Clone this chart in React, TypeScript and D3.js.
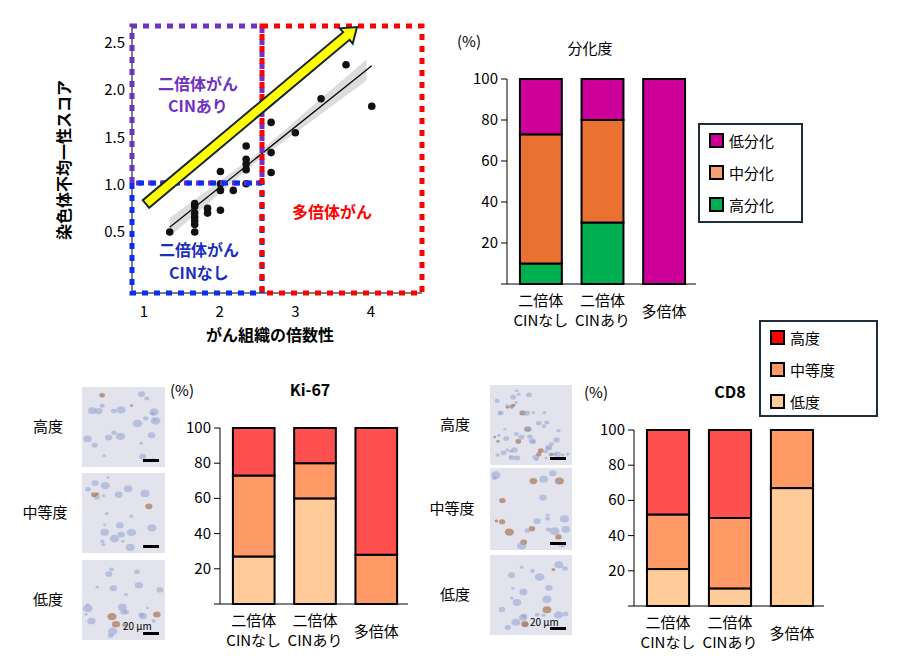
import React from "react";
import * as d3 from "d3";

const ploidyX = [1.34,1.67,1.67,1.67,1.67,1.67,1.67,1.67,1.84,1.84,2.01,2.01,2.01,2.01,2.18,2.35,2.35,2.35,2.35,2.35,2.68,2.68,2.68,3.0,3.34,3.67,4.01];
const cinY = [0.5,0.5,0.58,0.62,0.66,0.7,0.77,0.8,0.7,0.75,0.73,0.94,1.01,1.14,0.94,1.01,1.16,1.22,1.27,1.41,1.13,1.34,1.66,1.55,1.91,2.27,1.83];
const fitX = [1.34, 4.01];
const fitY = [0.55, 2.26];
const xTicks = [1, 2, 3, 4];
const yTicks = [0.5, 1.0, 1.5, 2.0, 2.5];

const groups = ["二倍体\nCINなし", "二倍体\nCINあり", "多倍体"];
const pctTicks = [20, 40, 60, 80, 100];
const diffLabels = ["高分化", "中分化", "低分化"];
const diffHigh = [10, 30, 0];
const diffMid = [63, 50, 0];
const diffLow = [27, 20, 100];
const kiLow = [27, 60, 0];
const kiMid = [46, 20, 28];
const kiHigh = [27, 20, 72];
const cdLow = [21, 10, 67];
const cdMid = [31, 40, 33];
const cdHigh = [48, 50, 0];

const F = "'Noto Sans CJK JP', 'Noto Sans', sans-serif";

function StackBar({ x0, x1, yTop, yBot, series, colors, title, titleX }: any) {
  const x = d3.scaleBand().domain(groups).range([x0 + 8, x1]).paddingInner(0.32).paddingOuter(0.08);
  const y = d3.scaleLinear().domain([0, 100]).range([yBot, yTop]);
  const stack = groups.map((g, i) => {
    let acc = 0;
    return series.map((s: number[], k: number) => {
      const a = acc; acc += s[i];
      return { a, b: acc, c: colors[k] };
    });
  });
  return (
    <g fontFamily={F}>
      {title && <text x={titleX} y={yTop - 32} textAnchor="middle" fontSize={16} fontWeight="bold">{title}</text>}
      <text x={x0 - 50} y={yTop - 32} fontSize={15}>(%)</text>
      {pctTicks.map(t => (
        <g key={t}>
          <line x1={x0 - 6} x2={x0} y1={y(t)} y2={y(t)} stroke="#000" />
          <text x={x0 - 9} y={y(t) + 5} textAnchor="end" fontSize={15}>{t}</text>
        </g>
      ))}
      {stack.map((segs, i) => segs.filter(s => s.b > s.a).map((s, k) => (
        <rect key={i + "-" + k} x={x(groups[i])} width={x.bandwidth()} y={y(s.b)} height={y(s.a) - y(s.b)} fill={s.c} stroke="#000" strokeWidth={2} />
      )))}
      <line x1={x0} x2={x0} y1={yTop} y2={yBot} stroke="#000" />
      <line x1={x0 - 6} x2={x1 + 6} y1={yBot} y2={yBot} stroke="#000" />
      {groups.map((g, i) => {
        const lines = g.split("\n");
        const cx = x(g)! + x.bandwidth() / 2;
        return lines.length === 1 ?
          <text key={g} x={cx} y={yBot + 33} textAnchor="middle" fontSize={15}>{g}</text> :
          lines.map((l, j) => <text key={g + j} x={cx} y={yBot + 22 + j * 20} textAnchor="middle" fontSize={15}>{l}</text>);
      })}
    </g>
  );
}

function Legend({ x, y, w, h, labels, colors }: any) {
  return (
    <g fontFamily={F}>
      <rect x={x} y={y} width={w} height={h} fill="#fff" stroke="#1f2d3d" strokeWidth={2} />
      {labels.map((l: string, i: number) => (
        <g key={l}>
          <rect x={x + 11} y={y + 10 + i * 32} width={13} height={13} fill={colors[i]} stroke="#000" strokeWidth={2} />
          <text x={x + 30} y={y + 23 + i * 32} fontSize={15}>{l}</text>
        </g>
      ))}
    </g>
  );
}

function Micro({ x, y, w, h, label, lx, seed, dense }: any) {
  const rnd = d3.randomLcg(seed);
  const cells = d3.range(dense ? 60 : 25).map(() => ({ cx: 4 + rnd() * (w - 8), cy: 4 + rnd() * (h - 8), r: 1.5 + rnd() * (dense ? 2 : 3.5), brown: rnd() < 0.15 }));
  return (
    <g>
      <rect x={x} y={y} width={w} height={h} fill="#e2e3ec" />
      {cells.map((c, i) => (
        <ellipse key={i} cx={x + c.cx} cy={y + c.cy} rx={c.r} ry={c.r * 0.8} fill={c.brown ? "#a0623a" : "#9aa6d2"} opacity={0.6} />
      ))}
      <rect x={x + w - 22} y={y + h - 8} width={16} height={3} fill="#000" />
      {label && <text x={lx} y={y + h / 2 + 5} textAnchor="middle" fontSize={15} fontFamily={F}>{label}</text>}
    </g>
  );
}

function arrowPath(x1: number, y1: number, x2: number, y2: number, sw: number, hw: number, hl: number) {
  const dx = x2 - x1, dy = y2 - y1, L = Math.hypot(dx, dy);
  const ux = dx / L, uy = dy / L, nx = -uy, ny = ux;
  const bx = x2 - ux * hl, by = y2 - uy * hl;
  const p = (a: number, b: number) => `${a.toFixed(1)},${b.toFixed(1)}`;
  return `M${p(x1 + nx * sw, y1 + ny * sw)} L${p(bx + nx * sw, by + ny * sw)} L${p(bx + nx * hw, by + ny * hw)} L${p(x2, y2)} L${p(bx - nx * hw, by - ny * hw)} L${p(bx - nx * sw, by - ny * sw)} L${p(x1 - nx * sw, y1 - ny * sw)} Z`;
}

export default function App() {
  const x = d3.scaleLinear().domain([1, 4]).range([144, 371]);
  const y = d3.scaleLinear().domain([0.5, 2.5]).range([232, 43]);
  const hwid = (d: number) => 0.04 + Math.abs(d - 2.5) * 0.05;
  const band = d3.area<number>().x(d => x(d)).y0(d => y(0.55 + (d - 1.34) * 0.64 - hwid(d))).y1(d => y(0.55 + (d - 1.34) * 0.64 + hwid(d)));
  const bandXs = d3.range(1.34, 4.02, 0.1);
  const diffColors = ["#00b050", "#e97132", "#cc0099"];
  const gradeColors = ["#ffcc99", "#ff9966", "#ff5050"];
  return (
    <svg width={900} height={659} style={{ display: "block", position: "absolute", left: 0, top: 0 }}>
      <rect width={900} height={659} fill="#fff" />
      <g fontFamily={F}>
        <path d={band(bandXs)!} fill="#d3d3d3" opacity={0.8} />
        <line x1={x(fitX[0])} y1={y(fitY[0])} x2={x(fitX[1])} y2={y(fitY[1])} stroke="#000" strokeWidth={1.2} />
        {ploidyX.map((v, i) => <circle key={i} cx={x(v)} cy={y(cinY[i])} r={3.8} fill="#111" />)}
        <line x1={132} x2={132} y1={26} y2={293} stroke="#000" />
        <line x1={132} x2={422} y1={293} y2={293} stroke="#000" />
        {xTicks.map(t => <text key={t} x={x(t)} y={317} textAnchor="middle" fontSize={15}>{t}</text>)}
        {yTicks.map(t => <text key={t} x={125} y={y(t) + 5} textAnchor="end" fontSize={15}>{t.toFixed(1)}</text>)}
        <text x={270} y={341} textAnchor="middle" fontSize={16} fontWeight="bold">がん組織の倍数性</text>
        <text transform="translate(70,160) rotate(-90)" textAnchor="middle" fontSize={16} fontWeight="bold">染色体不均一性スコア</text>
        <path d="M132,183 L132,26 L262,26 L262,183 Z" fill="none" stroke="#7030c0" strokeWidth={5} strokeDasharray="6 6" />
        <path d="M132,183 L132,293 L262,293 L262,183 Z" fill="none" stroke="#0a2ff0" strokeWidth={5} strokeDasharray="6 6" />
        <path d="M262,26 L422,26 L422,293 L262,293 Z" fill="none" stroke="#ff0000" strokeWidth={5} strokeDasharray="6 6" />
        <text x={198} y={90} textAnchor="middle" fontSize={16} fontWeight="bold" fill="#7030c0">二倍体がん</text>
        <text x={198} y={112} textAnchor="middle" fontSize={16} fontWeight="bold" fill="#7030c0">CINあり</text>
        <text x={199} y={256} textAnchor="middle" fontSize={16} fontWeight="bold" fill="#1a2fc0">二倍体がん</text>
        <text x={199} y={279} textAnchor="middle" fontSize={16} fontWeight="bold" fill="#1a2fc0">CINなし</text>
        <text x={332} y={218} textAnchor="middle" fontSize={16} fontWeight="bold" fill="#ff0000">多倍体がん</text>
        <path d={arrowPath(146, 204, 357, 27, 5, 10, 14)} fill="#ffff00" stroke="#1a2333" strokeWidth={2} />
      </g>
      <text x={590} y={54} textAnchor="middle" fontSize={15} fontFamily={F}>分化度</text>
      <StackBar x0={507} x1={690} yTop={79} yBot={284} series={[diffHigh, diffMid, diffLow]} colors={diffColors} />
      <Legend x={699} y={124} w={103} h={98} labels={[...diffLabels].reverse()} colors={["#cc0099", "#f4a070", "#00b050"]} />
      <Micro x={82} y={387} w={83} h={80} label="高度" lx={48} seed={0.1} />
      <Micro x={82} y={473} w={83} h={80} label="中等度" lx={45} seed={0.2} />
      <Micro x={82} y={560} w={83} h={80} label="低度" lx={48} seed={0.3} />
      <text x={123} y={630} fontSize={10} fontFamily={F}>20 μm</text>
      <StackBar x0={220} x1={402} yTop={428} yBot={604} series={[kiLow, kiMid, kiHigh]} colors={gradeColors} title="Ki-67" titleX={310} />
      <Micro x={490} y={385} w={82} h={80} label="高度" lx={455} seed={0.4} dense />
      <Micro x={490} y={468} w={82} h={82} label="中等度" lx={452} seed={0.5} />
      <Micro x={490} y={555} w={82} h={80} label="低度" lx={455} seed={0.6} />
      <text x={530} y={626} fontSize={10} fontFamily={F}>20 μm</text>
      <StackBar x0={634} x1={818} yTop={430} yBot={606} series={[cdLow, cdMid, cdHigh]} colors={gradeColors} title="CD8" titleX={730} />
      <Legend x={760} y={321} w={117} h={95} labels={["高度", "中等度", "低度"]} colors={["#ff0000", "#ff9966", "#ffcc99"]} />
    </svg>
  );
}
